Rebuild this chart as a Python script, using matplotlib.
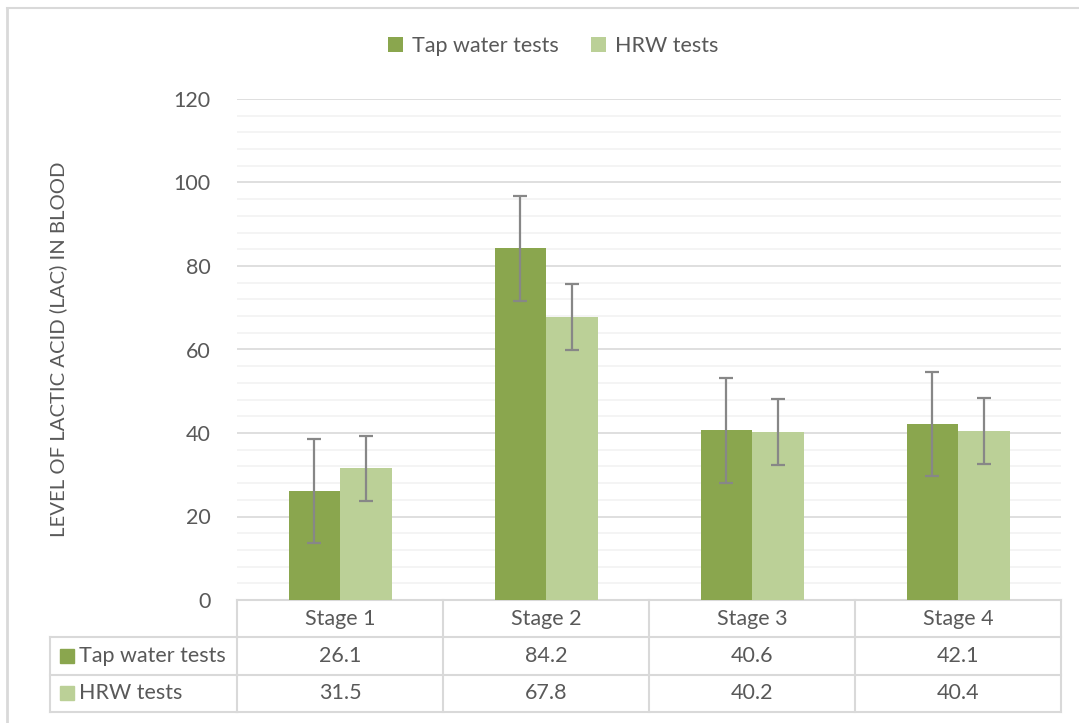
import numpy as np
import matplotlib
matplotlib.use("Agg")
import matplotlib.pyplot as plt
from matplotlib.patches import Patch
from matplotlib.lines import Line2D
from matplotlib.transforms import blended_transform_factory

plt.rcParams['font.family'] = ['Lato', 'DejaVu Sans']

# data
stages = ["Stage 1", "Stage 2", "Stage 3", "Stage 4"]
series_names = ["Tap water tests", "HRW tests"]
tap_values = [26.1, 84.2, 40.6, 42.1]
hrw_values = [31.5, 67.8, 40.2, 40.4]
tap_errors = [12.5, 12.5, 12.5, 12.5]
hrw_errors = [7.9, 7.9, 7.9, 7.9]

TAP_COLOR = "#8AA64E"
HRW_COLOR = "#BBD097"
TEXT = "#595959"
GRID_MAJOR = "#D9D9D9"
GRID_MINOR = "#F2F2F2"
ERR = "#878787"
FS = 15.5

W, H = 1079, 723
fig = plt.figure(figsize=(W / 100, H / 100), dpi=100)

# plot area in pixel coordinates of the reference
left_px, right_px, bottom_px, top_px = 237, 1061, 600, 99
ax = fig.add_axes([left_px / W, 1 - bottom_px / H,
                   (right_px - left_px) / W, (bottom_px - top_px) / H])

x = np.arange(len(stages))
bw = 0.25
ax.bar(x - bw / 2, tap_values, bw, color=TAP_COLOR, zorder=3)
ax.bar(x + bw / 2, hrw_values, bw, color=HRW_COLOR, zorder=3)
ax.errorbar(x - bw / 2, tap_values, yerr=tap_errors, fmt="none",
            ecolor=ERR, elinewidth=1.6, capsize=5, capthick=1.6, zorder=4)
ax.errorbar(x + bw / 2, hrw_values, yerr=hrw_errors, fmt="none",
            ecolor=ERR, elinewidth=1.6, capsize=5, capthick=1.6, zorder=4)

ax.set_xlim(-0.5, len(stages) - 0.5)
ax.set_ylim(0, 120)
ax.set_yticks(np.arange(0, 121, 20))
ax.set_yticks(np.arange(0, 121, 4), minor=True)
ax.grid(axis="y", which="minor", color=GRID_MINOR, lw=1.2, zorder=0)
ax.grid(axis="y", which="major", color=GRID_MAJOR, lw=1.2, zorder=1)
ax.tick_params(axis="y", which="both", length=0, pad=19, labelsize=FS,
               labelcolor=TEXT)
ax.set_xticks([])
for s in ax.spines.values():
    s.set_visible(False)
ax.set_ylabel("LEVEL OF LACTIC ACID (LAC) IN BLOOD", fontsize=14.6,
              color=TEXT)
ax.yaxis.set_label_coords((67 - left_px) / (right_px - left_px), 0.5)

# data table below the plot
row_h = 37.3 / (bottom_px - top_px)  # in axes fraction
label_left = (50 - left_px) / (right_px - left_px)
tr = blended_transform_factory(ax.transData, ax.transAxes)
line_kw = dict(color=GRID_MAJOR, lw=1.5, clip_on=False)

y_lines = [0, -row_h, -2 * row_h, -3 * row_h]
ax.plot([-0.5, len(stages) - 0.5], [0, 0], transform=tr, **line_kw)
for yl in y_lines[1:]:
    ax.plot([0, 1], [yl, yl], transform=ax.transAxes, **line_kw)
    ax.plot([label_left, 0], [yl, yl], transform=ax.transAxes, **line_kw)
ax.plot([label_left, label_left], [-row_h, -3 * row_h],
        transform=ax.transAxes, **line_kw)
for b in np.arange(-0.5, len(stages), 1.0):
    ax.plot([b, b], [0, -3 * row_h], transform=tr, **line_kw)

for i, st in enumerate(stages):
    ax.text(i, -0.5 * row_h, st, transform=tr, ha="center", va="center",
            fontsize=FS, color=TEXT)
    ax.text(i, -1.5 * row_h, f"{tap_values[i]:.1f}", transform=tr,
            ha="center", va="center", fontsize=FS, color=TEXT)
    ax.text(i, -2.5 * row_h, f"{hrw_values[i]:.1f}", transform=tr,
            ha="center", va="center", fontsize=FS, color=TEXT)

sq_x = (67 - left_px) / (right_px - left_px)
txt_x = (79 - left_px) / (right_px - left_px)
for k, (name, col) in enumerate(zip(series_names, [TAP_COLOR, HRW_COLOR])):
    yc = -(1.5 + k) * row_h
    ax.plot([sq_x], [yc], marker="s", markersize=10, color=col,
            transform=ax.transAxes, clip_on=False)
    ax.text(txt_x, yc, name, transform=ax.transAxes, ha="left", va="center",
            fontsize=FS, color=TEXT)

# legend at the top
handles = [Patch(facecolor=TAP_COLOR), Patch(facecolor=HRW_COLOR)]
fig.legend(handles, series_names, loc="center", bbox_to_anchor=(553 / W, 1 - 46 / H),
           ncol=2, frameon=False, fontsize=FS, labelcolor=TEXT,
           handlelength=0.7, handleheight=0.7, handletextpad=0.4,
           columnspacing=1.5)

# chart border (left and top visible)
fig.add_artist(Line2D([7 / W, 7 / W], [0, 1 - 8 / H], color=GRID_MAJOR,
                      lw=2, transform=fig.transFigure))
fig.add_artist(Line2D([7 / W, 1], [1 - 8 / H, 1 - 8 / H], color=GRID_MAJOR,
                      lw=1.5, transform=fig.transFigure))

fig.savefig("out.png", dpi=100, facecolor="white")
